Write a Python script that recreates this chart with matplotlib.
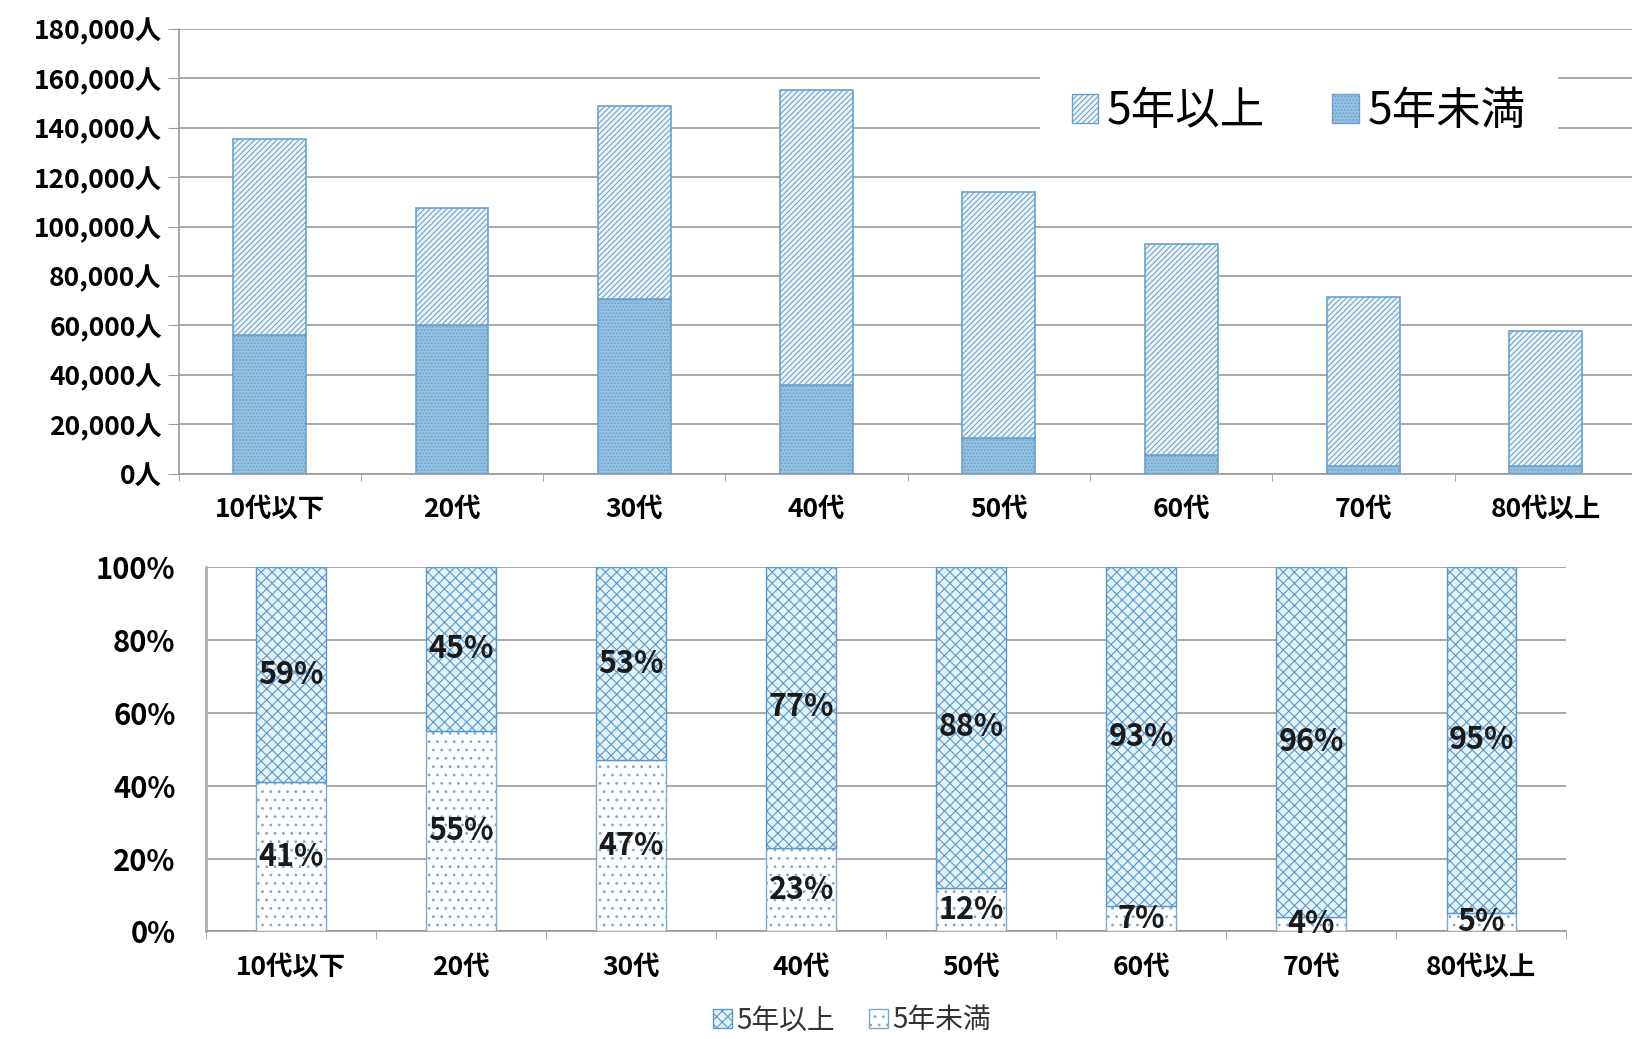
import matplotlib
matplotlib.use('Agg')
import matplotlib.pyplot as plt
import matplotlib.patches as mpatches
import numpy as np

plt.rcParams['font.family'] = ['Noto Sans CJK JP', 'DejaVu Sans']
plt.rcParams['font.weight'] = 'bold'
plt.rcParams['hatch.linewidth'] = 0.8

# データ
ages = ['10代以下', '20代', '30代', '40代', '50代', '60代', '70代', '80代以上']
under5_count = [56000, 60000, 70500, 36000, 14500, 7500, 3000, 3000]
over5_count = [79500, 47500, 78500, 119500, 99500, 85500, 68300, 54800]
under5_pct = [41, 55, 47, 23, 12, 7, 4, 5]
over5_pct = [59, 45, 53, 77, 88, 93, 96, 95]
count_ticks = [0, 20000, 40000, 60000, 80000, 100000, 120000, 140000, 160000, 180000]
pct_ticks = [0, 20, 40, 60, 80, 100]

grid_c = '#9a9a9a'

fig = plt.figure(figsize=(16.32, 10.39), dpi=100)

# ================= 上: 人数 =================
ax1 = fig.add_axes([0.1094, 0.5442, 0.8937, 0.4279])
x = np.arange(len(ages))
ax1.bar(x, under5_count, width=0.4, color='#93c1e3', edgecolor='#6f9fc8',
        hatch='.....', linewidth=1.2, zorder=3)
ax1.bar(x, over5_count, width=0.4, bottom=under5_count, color='#eef6fb',
        edgecolor='#6aa2cc', hatch='//////', linewidth=1.2, zorder=3)
ax1.set_xlim(-0.5, len(ages) - 0.5)
ax1.set_ylim(0, 180000)
ax1.set_yticks(count_ticks)
ax1.set_yticklabels([f'{v:,}人' for v in count_ticks], fontsize=19)
ax1.set_xticks(x)
ax1.set_xticklabels(ages, fontsize=19)
ax1.set_xticks(np.arange(len(ages) + 1) - 0.5, minor=True)
ax1.tick_params(axis='x', which='major', length=0, pad=16)
ax1.tick_params(axis='x', which='minor', length=5, color=grid_c)
ax1.tick_params(axis='y', length=8, color=grid_c, pad=4)
ax1.grid(axis='y', color=grid_c, linewidth=1.2, zorder=0)
for s in ['top', 'right']:
    ax1.spines[s].set_visible(False)
ax1.spines['left'].set_color(grid_c)
ax1.spines['bottom'].set_color(grid_c)
ax1.spines['left'].set_linewidth(1.2)
ax1.spines['bottom'].set_linewidth(1.2)

h_over = mpatches.Patch(facecolor='#eef6fb', edgecolor='#6aa2cc', hatch='//////', linewidth=1)
h_under = mpatches.Patch(facecolor='#93c1e3', edgecolor='#6f9fc8', hatch='.....', linewidth=1)
leg1 = ax1.legend([h_over, h_under], ['5年以上', '5年未満'], loc='center',
                  bbox_to_anchor=(0.768, 0.815), ncol=2, frameon=True,
                  fontsize=32, handlelength=0.6, handleheight=0.6,
                  handletextpad=0.2, columnspacing=1.5, borderpad=0.7)
leg1.get_frame().set_edgecolor('white')
leg1.get_frame().set_facecolor('white')
leg1.get_frame().set_alpha(1)
leg1.set_zorder(5)
for t in leg1.get_texts():
    t.set_fontweight('normal')

# ================= 下: 構成比 =================
ax2 = fig.add_axes([0.1262, 0.1035, 0.8336, 0.3506])
ax2.bar(x, under5_pct, width=0.41, color='white', edgecolor='#7fa9cc',
        hatch='..', linewidth=1.0, zorder=3)
ax2.bar(x, over5_pct, width=0.41, bottom=under5_pct, color='#e3f3fb',
        edgecolor='#5b97c9', hatch='xxx', linewidth=1.0, zorder=3)
for i in range(len(ages)):
    ax2.text(x[i], under5_pct[i] / 2, f'{under5_pct[i]}%', ha='center', va='center',
             fontsize=22, fontweight='bold', color='#1a1a1a', zorder=4)
    ax2.text(x[i], under5_pct[i] + over5_pct[i] / 2, f'{over5_pct[i]}%', ha='center',
             va='center', fontsize=22, fontweight='bold', color='#1a1a1a', zorder=4)
ax2.set_xlim(-0.5, len(ages) - 0.5)
ax2.set_ylim(0, 100)
ax2.set_yticks(pct_ticks)
ax2.set_yticklabels([f'{v}%' for v in pct_ticks], fontsize=21)
ax2.set_xticks(x)
ax2.set_xticklabels(ages, fontsize=19)
ax2.set_xticks(np.arange(len(ages) + 1) - 0.5, minor=True)
ax2.tick_params(axis='x', which='major', length=0, pad=16)
ax2.tick_params(axis='x', which='minor', length=6, color=grid_c)
ax2.tick_params(axis='y', length=0, pad=22)
ax2.grid(axis='y', color=grid_c, linewidth=1.2, zorder=0)
for s in ['top', 'right']:
    ax2.spines[s].set_visible(False)
ax2.spines['left'].set_color('#b0b0b0')
ax2.spines['left'].set_linewidth(2)
ax2.spines['bottom'].set_color(grid_c)
ax2.spines['bottom'].set_linewidth(1.2)

h_over2 = mpatches.Patch(facecolor='#e3f3fb', edgecolor='#5b97c9', hatch='xxx', linewidth=1)
h_under2 = mpatches.Patch(facecolor='white', edgecolor='#7fa9cc', hatch='..', linewidth=1)
leg2 = fig.legend([h_over2, h_under2], ['5年以上', '5年未満'], loc='center',
                  bbox_to_anchor=(0.522, 0.018), ncol=2, frameon=False,
                  fontsize=20, handlelength=0.7, handleheight=0.7,
                  handletextpad=0.15, columnspacing=1.2)
for t in leg2.get_texts():
    t.set_fontweight('normal')
    t.set_color('#333333')

plt.savefig('out.png', dpi=100)
plt.close()
